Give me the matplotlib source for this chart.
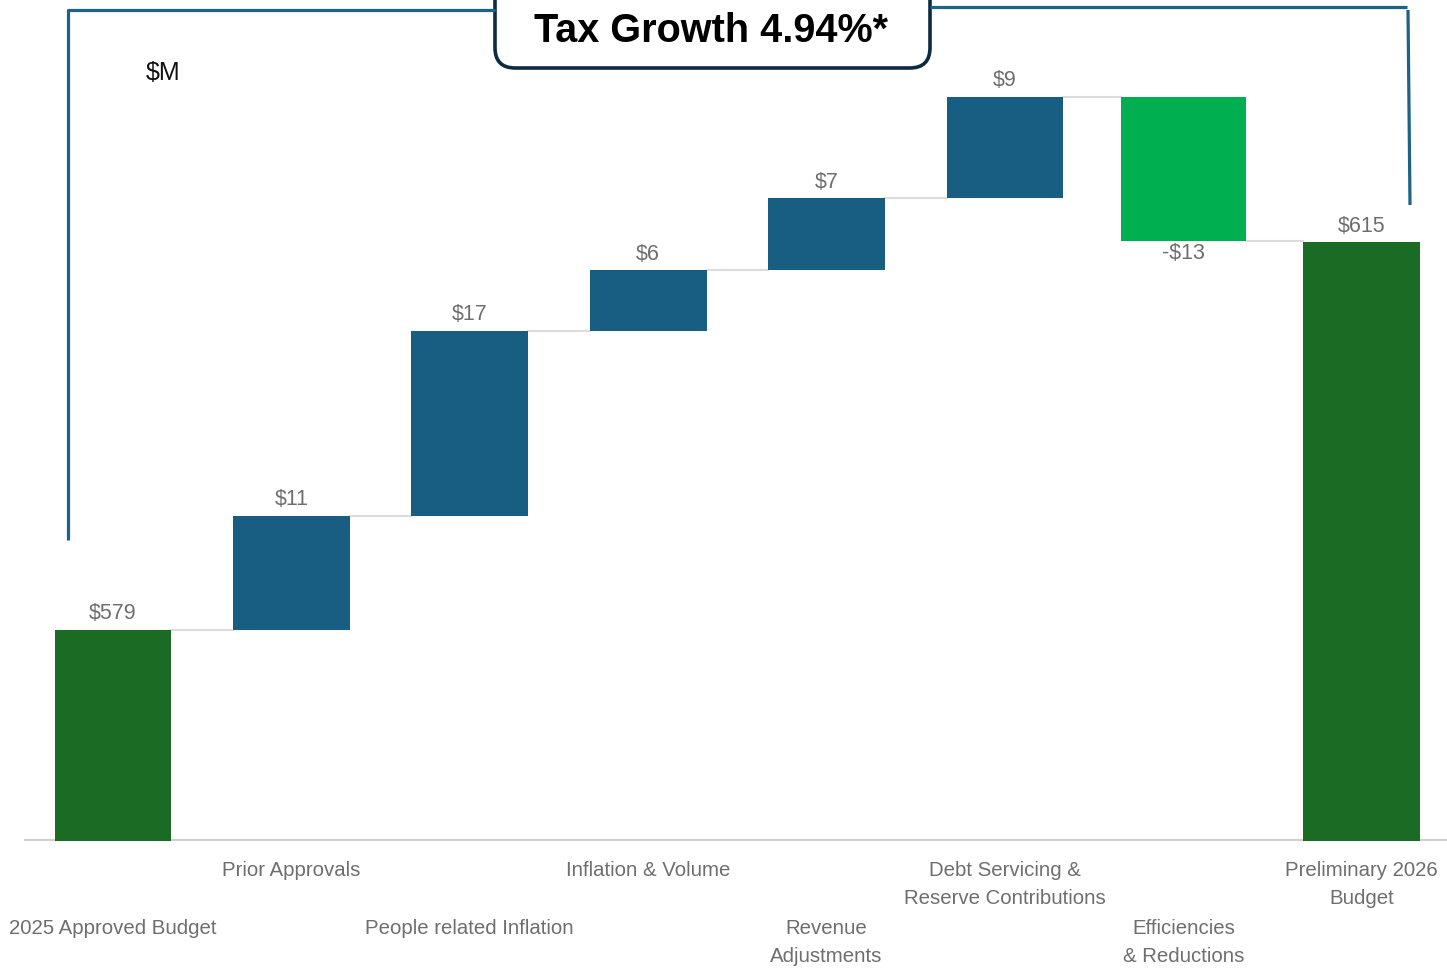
import matplotlib

matplotlib.use("Agg")
import matplotlib.pyplot as plt
import matplotlib.patches as patches
from matplotlib.lines import Line2D
import numpy as np

plt.rcParams.update({"font.family": ["Liberation Sans", "DejaVu Sans"], "axes.unicode_minus": False})

CATEGORIES = [
    "2025 Approved Budget",
    "Prior Approvals",
    "People related Inflation",
    "Inflation & Volume",
    "Revenue\nAdjustments",
    "Debt Servicing &\nReserve Contributions",
    "Efficiencies\n& Reductions",
    "Preliminary 2026\nBudget",
]
START = 579
CHANGES = [10.6, 17.2, 5.6, 6.7, 9.4, -13.4]
END = 615
Y_MIN = 559.4
Y_MAX = 637.5

DARK_GREEN = "#1B6B24"
BLUE = "#175E82"
BRIGHT_GREEN = "#00B050"
BRACKET = "#1C6385"
LABEL_GRAY = "#6E6E6E"

W, H = 1447, 968


def px(x, y):
    return x / W, 1 - y / H


def fig_line(fig, pts, color=BRACKET, lw=2.3):
    xs, ys = zip(*[px(x, y) for x, y in pts])
    fig.add_artist(Line2D(xs, ys, color=color, lw=lw, transform=fig.transFigure, solid_capstyle="butt"))


fig = plt.figure(figsize=(W / 100, H / 100), dpi=100)
spacing = 178.4
x0 = 113
ax = fig.add_axes([0, 1 - 841 / H, 1, 841 / H])
ax.set_xlim(-x0 / spacing, (W - x0) / spacing)
ax.set_ylim(Y_MIN, Y_MAX)
ax.axis("off")

x = np.arange(len(CATEGORIES))
cum = np.concatenate([[START], START + np.cumsum(CHANGES)])
bottoms = [0] + [min(cum[i], cum[i + 1]) for i in range(len(CHANGES))] + [0]
heights = [START] + [abs(c) for c in CHANGES] + [END]
colors = [DARK_GREEN] + [BLUE if c > 0 else BRIGHT_GREEN for c in CHANGES] + [DARK_GREEN]
widths = [0.655] * 6 + [0.70, 0.655]
values = [START] + CHANGES + [END]

ax.axhline(Y_MIN + 0.1, xmin=25 / W, xmax=1, color="#D0D0D0", lw=1.5, zorder=1)
ax.bar(x, heights, widths, bottom=bottoms, color=colors, zorder=2)

# connectors
for i in range(len(CATEGORIES) - 1):
    lvl = cum[i] if i < len(cum) else END
    ax.plot([x[i] + widths[i] / 2, x[i + 1] - widths[i + 1] / 2], [lvl, lvl], color="#DCDCDC", lw=1.5, zorder=1)

for i, v in enumerate(values):
    txt = f"${v:.0f}" if v >= 0 else f"-${abs(v):.0f}"
    if v >= 0:
        ax.annotate(txt, (x[i], bottoms[i] + heights[i]), xytext=(0, 4), textcoords="offset points",
                    ha="center", va="bottom", fontsize=15.5, color=LABEL_GRAY)
    else:
        ax.annotate(txt, (x[i], bottoms[i]), xytext=(0, -1), textcoords="offset points",
                    ha="center", va="top", fontsize=15.5, color=LABEL_GRAY)

for i, lab in enumerate(CATEGORIES):
    y = 871 if i % 2 else 929
    fig.text(*px(x0 + spacing * i, y - 10), lab, ha="center", va="top", fontsize=14.7,
             color=LABEL_GRAY, linespacing=1.58)

fig.text(*px(163, 73), "$M", ha="center", va="center", fontsize=18, color="#111111")

# bracket
fig_line(fig, [(68, 540), (68, 10), (495, 10)])
fig_line(fig, [(930, 7), (1407, 7)])
fig_line(fig, [(1408, 10), (1410, 205)])

bx0, by0 = px(495, 68)
bx1, by1 = px(930, -30)
box = patches.FancyBboxPatch((bx0, by0), bx1 - bx0, by1 - by0, boxstyle="round,pad=0,rounding_size=0.014",
                             transform=fig.transFigure, facecolor="white", edgecolor="#0D2B40", lw=2.6,
                             mutation_aspect=W / H)
fig.add_artist(box)
fig.text(*px(711, 31), "Tax Growth 4.94%*", ha="center", va="center", fontsize=28.5, fontweight="bold",
         color="black")

fig.savefig("out.png", dpi=100)
